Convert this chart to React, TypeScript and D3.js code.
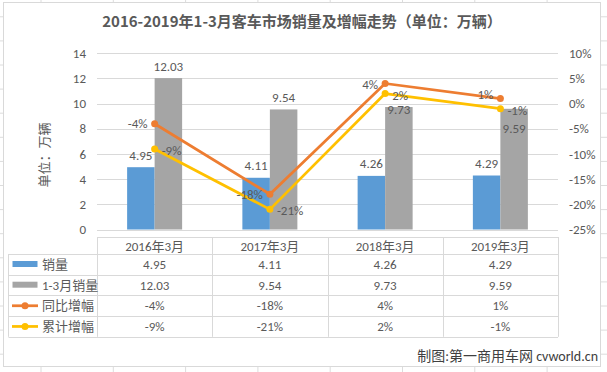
import * as d3 from "d3";

// chart data
const categories = ["2016年3月", "2017年3月", "2018年3月", "2019年3月"];
const sales = [4.95, 4.11, 4.26, 4.29];
const salesQ1 = [12.03, 9.54, 9.73, 9.59];
const yoyGrowth = [-4, -18, 4, 1];
const cumGrowth = [-9, -21, 2, -1];
const leftTicks = [0, 2, 4, 6, 8, 10, 12, 14];
const rightTicks = [-25, -20, -15, -10, -5, 0, 5, 10];
const seriesNames = ["销量", "1-3月销量", "同比增幅", "累计增幅"];

// label nudges (px) for the labels that were moved by hand
const q1LabelNudge = [0, 0, 14, 32];
const yoyLabelNudge = [0, 0, 1, -4];

const W = 607;
const H = 372;
const left = 97;
const right = 558;
const top = 53.3;
const bottom = 229.5;

const BLUE = "#5B9BD5";
const GRAY = "#A5A5A5";
const ORANGE = "#ED7D31";
const YELLOW = "#FFC000";
const TEXT = "#595959";
const GRID = "#d9d9d9";
const FONT = '"Liberation Sans Narrow", Carlito, "Noto Sans CJK SC", sans-serif';
const CJK = '"Noto Sans CJK SC", sans-serif';

export default function App() {
  const x = d3.scaleBand<string>().domain(categories).range([left, right]);
  const inner = d3.scaleBand<number>().domain([0, 1]).range([-27.5, 27.5]);
  const y = d3.scaleLinear().domain([0, 14]).range([bottom, top]);
  const yr = d3.scaleLinear().domain([-25, 10]).range([bottom, top]);
  const cx = (c: string) => (x(c) as number) + x.bandwidth() / 2;

  const line = d3
    .line<number>()
    .x((_, i) => cx(categories[i]))
    .y((d) => yr(d));

  // table rows
  const headerTop = 237;
  const rowH = 20.7;
  const rowTop = 254;
  const rowsY = seriesNames.map((_, i) => rowTop + i * rowH);
  const tableBottom = rowTop + seriesNames.length * rowH;
  const tableValues = [
    sales.map((d) => d.toFixed(2)),
    salesQ1.map((d) => d.toFixed(2)),
    yoyGrowth.map((d) => d + "%"),
    cumGrowth.map((d) => d + "%"),
  ];

  // background sheet grid
  const vLines = d3.range(41, W, 72.3);
  const hLines = d3.range(16.8, H, 24.1);

  return (
    <svg width={W} height={H} style={{ position: "absolute", left: 0, top: 0 }}>
      <rect width={W} height={H} fill="#fff" />
      <g stroke="#dcdcdc" strokeWidth={1}>
        {vLines.map((v) => (
          <line key={"v" + v} x1={v} x2={v} y1={0} y2={H} />
        ))}
        {hLines.map((h) => (
          <line key={"h" + h} x1={0} x2={W} y1={h} y2={h} />
        ))}
      </g>
      <rect x={3.5} y={2.5} width={597} height={364} fill="#fff" stroke={GRID} />

      <text x={302} y={27} textAnchor="middle" fontFamily={CJK} fontWeight="bold" fontSize={15} fill={TEXT}>
        2016-2019年1-3月客车市场销量及增幅走势（单位：万辆）
      </text>

      {/* gridlines */}
      <g stroke={GRID} strokeWidth={1}>
        {leftTicks.map((t) => (
          <line key={t} x1={left} x2={right} y1={Math.round(y(t)) + 0.5} y2={Math.round(y(t)) + 0.5} />
        ))}
      </g>

      {/* axes labels */}
      <g fontFamily={FONT} fontSize={13} fill={TEXT}>
        {leftTicks.map((t) => (
          <text key={t} x={86} y={y(t)} dy="0.35em" textAnchor="end">
            {t}
          </text>
        ))}
        {rightTicks.map((t) => (
          <text key={t} x={569} y={yr(t)} dy="0.35em">
            {t + "%"}
          </text>
        ))}
      </g>
      <text
        transform="translate(44,155) rotate(-90)"
        textAnchor="middle"
        dy="0.35em"
        fontFamily={CJK}
        fontSize={13}
        fill={TEXT}
      >
        单位：万辆
      </text>

      {/* bars */}
      {categories.map((c, i) => (
        <g key={c}>
          <rect x={cx(c) + (inner(0) as number)} y={y(sales[i])} width={inner.bandwidth()} height={bottom - y(sales[i])} fill={BLUE} />
          <rect x={cx(c) + (inner(1) as number)} y={y(salesQ1[i])} width={inner.bandwidth()} height={bottom - y(salesQ1[i])} fill={GRAY} />
        </g>
      ))}

      {/* lines */}
      <path d={line(yoyGrowth) as string} fill="none" stroke={ORANGE} strokeWidth={2.75} strokeLinejoin="round" />
      <path d={line(cumGrowth) as string} fill="none" stroke={YELLOW} strokeWidth={2.75} strokeLinejoin="round" />
      {categories.map((c, i) => (
        <g key={c}>
          <circle cx={cx(c)} cy={yr(yoyGrowth[i])} r={3.5} fill={ORANGE} />
          <circle cx={cx(c)} cy={yr(cumGrowth[i])} r={3.5} fill={YELLOW} />
        </g>
      ))}

      {/* data labels */}
      <g fontFamily={FONT} fontSize={13} fill={TEXT} textAnchor="middle">
        {categories.map((c, i) => (
          <g key={c}>
            <text x={cx(c) + (inner(0) as number) + inner.bandwidth() / 2} y={y(sales[i]) - 12} dy="0.35em">
              {sales[i].toFixed(2)}
            </text>
            <text x={cx(c) + (inner(1) as number) + inner.bandwidth() / 2} y={y(salesQ1[i]) - 12 + q1LabelNudge[i]} dy="0.35em">
              {salesQ1[i].toFixed(2)}
            </text>
            <text x={cx(c) - 7} y={yr(yoyGrowth[i]) + yoyLabelNudge[i]} dy="0.35em" textAnchor="end">
              {yoyGrowth[i] + "%"}
            </text>
            <text x={cx(c) + 7} y={yr(cumGrowth[i]) + 1.5} dy="0.35em" textAnchor="start">
              {cumGrowth[i] + "%"}
            </text>
          </g>
        ))}
      </g>

      {/* data table */}
      <g stroke={GRID} strokeWidth={1} fill="none">
        <line x1={left} x2={right} y1={headerTop + 0.5} y2={headerTop + 0.5} />
        {rowsY.map((r) => (
          <line key={r} x1={8.5} x2={right} y1={Math.round(r) + 0.5} y2={Math.round(r) + 0.5} />
        ))}
        <line x1={8.5} x2={right} y1={Math.round(tableBottom) + 0.5} y2={Math.round(tableBottom) + 0.5} />
        <line x1={8.5} x2={8.5} y1={rowTop} y2={tableBottom} />
        {categories.map((c) => (
          <line key={c} x1={Math.round(x(c) as number) + 0.5} x2={Math.round(x(c) as number) + 0.5} y1={headerTop} y2={tableBottom} />
        ))}
        <line x1={right + 0.5} x2={right + 0.5} y1={headerTop} y2={tableBottom} />
      </g>
      <g fontFamily={FONT} fontSize={13} fill={TEXT} textAnchor="middle">
        {categories.map((c) => (
          <text key={c} x={cx(c)} y={(headerTop + rowTop) / 2 + 1} dy="0.35em">
            {c}
          </text>
        ))}
        {tableValues.map((row, r) =>
          row.map((v, i) => (
            <text key={r + "-" + i} x={cx(categories[i])} y={rowsY[r] + rowH / 2} dy="0.35em">
              {v}
            </text>
          ))
        )}
      </g>
      {/* legend keys */}
      <rect x={12.5} y={rowsY[0] + 7} width={25} height={6} fill={BLUE} />
      <rect x={12.5} y={rowsY[1] + 7} width={25} height={6} fill={GRAY} />
      <line x1={12} x2={38} y1={rowsY[2] + rowH / 2} y2={rowsY[2] + rowH / 2} stroke={ORANGE} strokeWidth={2.75} />
      <circle cx={25} cy={rowsY[2] + rowH / 2} r={3.5} fill={ORANGE} />
      <line x1={12} x2={38} y1={rowsY[3] + rowH / 2} y2={rowsY[3] + rowH / 2} stroke={YELLOW} strokeWidth={2.75} />
      <circle cx={25} cy={rowsY[3] + rowH / 2} r={3.5} fill={YELLOW} />
      <g fontFamily={FONT} fontSize={13} fill={TEXT}>
        {seriesNames.map((n, i) => (
          <text key={n} x={42} y={rowsY[i] + rowH / 2} dy="0.35em">
            {n}
          </text>
        ))}
      </g>

      <text x={598} y={356} dy="0.35em" textAnchor="end" fontFamily={FONT} fontSize={14} fill="#404040">
        制图:第一商用车网 cvworld.cn
      </text>
    </svg>
  );
}
